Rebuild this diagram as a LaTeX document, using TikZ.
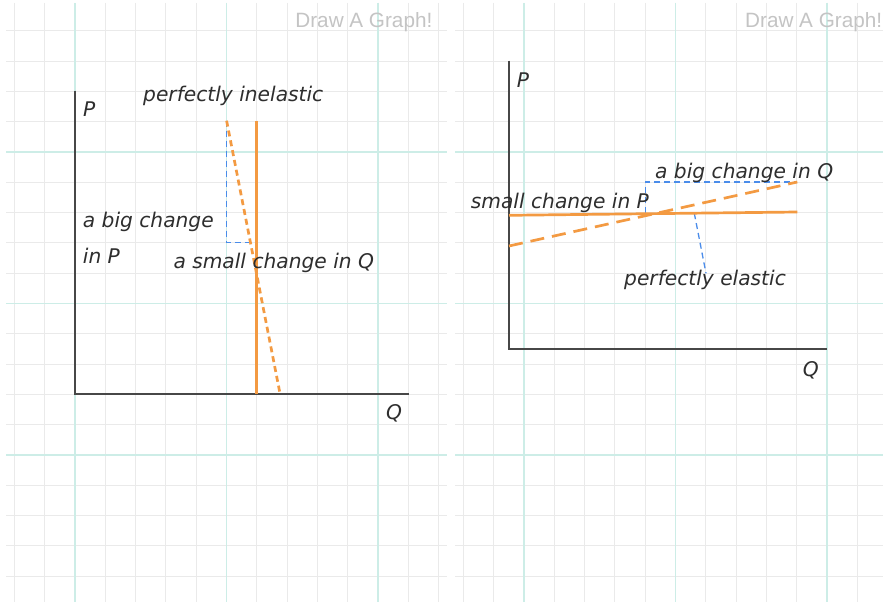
\documentclass[tikz,border=0pt]{standalone}
\usepackage{fontspec}
\setmainfont{DejaVu Sans}
\newfontfamily\uifont{Liberation Sans}
\definecolor{gridgray}{HTML}{EAEAEA}
\definecolor{gridcyan}{HTML}{CDEDE7}
\definecolor{axisgray}{HTML}{474747}
\definecolor{curveorange}{HTML}{F39A42}
\definecolor{guideblue}{HTML}{4A8CEA}
\definecolor{inktext}{HTML}{2E2E2E}
\definecolor{brandgray}{HTML}{C4C4C4}
\begin{document}
\begin{tikzpicture}[x=1pt,y=-1pt,
  gridline/.style={draw=gridgray,line width=1pt},
  gridmajor/.style={draw=gridcyan,line width=1.2pt},
  axisline/.style={draw=axisgray,line width=1.8pt},
  curvesolid/.style={draw=curveorange,line width=2.7pt},
  curvedotted/.style={draw=curveorange,line width=2.7pt,dash pattern=on 6pt off 4pt},
  curvedashed/.style={draw=curveorange,line width=2.7pt,dash pattern=on 14pt off 8pt},
  guide/.style={draw=guideblue,line width=1.3pt,dash pattern=on 6pt off 4pt},
  lbl/.style={inner sep=0pt,anchor=base west,text=inktext,font=\fontsize{20.2}{24}\selectfont\itshape},
  brand/.style={inner sep=0pt,anchor=base east,text=brandgray,font=\uifont\fontsize{20.7}{24}\selectfont}
]
\useasboundingbox (0,0) rectangle (883,602);
\fill[white] (0,0) rectangle (883,602);
% grid
\foreach \k in {0,...,18}{
  \pgfmathsetmacro{\yy}{30.7+30.31*\k}
  \draw[gridline] (6,\yy) -- (447,\yy);
  \draw[gridline] (455,\yy) -- (883,\yy);
}
\foreach \k in {0,...,14}{
  \pgfmathsetmacro{\xx}{14.3+30.31*\k}
  \draw[gridline] (\xx,3) -- (\xx,602);
}
\foreach \k in {0,...,13}{
  \pgfmathsetmacro{\xx}{463.3+30.31*\k}
  \draw[gridline] (\xx,3) -- (\xx,602);
}
\foreach \k in {4,9,14}{
  \pgfmathsetmacro{\yy}{30.7+30.31*\k}
  \draw[gridmajor] (6,\yy) -- (447,\yy);
  \draw[gridmajor] (455,\yy) -- (883,\yy);
}
\foreach \k in {2,7,12}{
  \pgfmathsetmacro{\xx}{14.3+30.31*\k}
  \draw[gridmajor] (\xx,3) -- (\xx,602);
  \pgfmathsetmacro{\xr}{463.3+30.31*\k}
  \draw[gridmajor] (\xr,3) -- (\xr,602);
}
\node[brand] (brandL) at (432.5,27.7) {Draw A Graph!};
\node[brand] (brandR) at (882.3,27.7) {Draw A Graph!};

% ---------- left panel ----------
\coordinate (Ltop) at (74.8,90.7);
\coordinate (Lorig) at (74.8,394.3);
\coordinate (Lright) at (408.5,394.3);
\draw[axisline] (Ltop) -- (Lorig) -- (Lright);
\coordinate (vtop) at (256.7,120.7);
\coordinate (vbot) at (256.7,394.3);
\coordinate (dtop) at (226.6,120.7);
\coordinate (dbot) at (280,393.5);
\coordinate (bcorner) at (226.6,242.7);
\coordinate (bend) at (256.7,242.7);
\draw[guide] (dtop) -- (bcorner) -- (bend);
\draw[curvedotted] (dtop) -- (dbot);
\draw[curvesolid] (vtop) -- (vbot);
\node[lbl] (LP) at (83,116.5) {P};
\node[lbl] (Lq) at (386,419.5) {Q};
\node[lbl] (Ltitle) at (143,101.7) {perfectly inelastic};
\node[lbl] (Lbig) at (82.7,227.7) {a big change};
\node[lbl] (LinP) at (82.7,263.3) {in P};
\node[lbl] (Lsmall) at (173.3,268.3) {a small change in Q};

% ---------- right panel ----------
\coordinate (Rtop) at (509,60.7);
\coordinate (Rorig) at (509,349.3);
\coordinate (Rright) at (827,349.3);
\draw[axisline] (Rtop) -- (Rorig) -- (Rright);
\coordinate (hl) at (509,215.3);
\coordinate (hr) at (797.3,212);
\coordinate (sl) at (509,246);
\coordinate (sr) at (797.3,182);
\coordinate (gb) at (645.3,213.3);
\coordinate (gt) at (645.3,182);
\coordinate (pa) at (694.3,213.3);
\coordinate (pb) at (706,273.3);
\draw[guide] (gb) -- (gt) -- (sr);
\draw[guide] (pa) -- (pb);
\draw[curvedashed] (sl) -- (sr);
\draw[curvesolid] (hl) -- (hr);
\node[lbl] (RP) at (516.7,87) {P};
\node[lbl] (RQ) at (802.7,376.7) {Q};
\node[lbl] (Rbig) at (655,178.3) {a big change in Q};
\node[lbl] (Rsmall) at (470.7,208.3) {small change in P};
\node[lbl] (Rtitle) at (624,285) {perfectly elastic};
\end{tikzpicture}
\end{document}
